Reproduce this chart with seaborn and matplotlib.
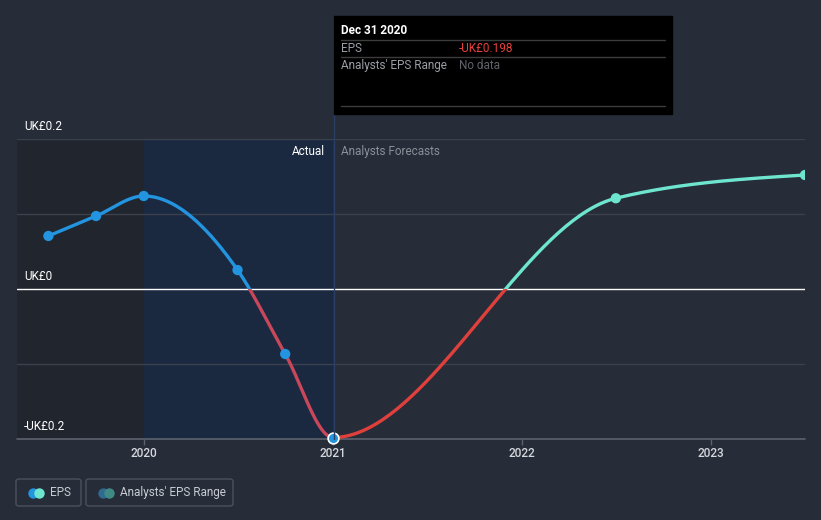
import numpy as np
import pandas as pd
import matplotlib
matplotlib.use("Agg")
import matplotlib.pyplot as plt
import seaborn as sns
from matplotlib.patches import Rectangle, FancyBboxPatch
from matplotlib.lines import Line2D

# ---- data ----
dates = [2019.496, 2019.748, 2020.0, 2020.496, 2020.748, 2021.0, 2022.496, 2023.496]
eps = [0.0707, 0.0973, 0.124, 0.0253, -0.0867, -0.198, 0.121, 0.152]
kind = ["actual"] * 6 + ["forecast"] * 2
year_ticks = [2020, 2021, 2022, 2023]
year_labels = ["2020", "2021", "2022", "2023"]
y_ticks = [-0.2, 0.0, 0.2]
y_labels = ["-UK£0.2", "UK£0", "UK£0.2"]
tooltip_date = "Dec 31 2020"
tooltip_eps = "-UK£0.198"

BG = "#262c38"
W, H = 821, 520

sns.set_theme(style="dark")
plt.rcParams["font.family"] = ["Roboto", "DejaVu Sans"]


def monotone_curve(xs, ys, n=80):
    xs = np.asarray(xs, float); ys = np.asarray(ys, float)
    k = len(xs)
    h = np.diff(xs); s = np.diff(ys) / h
    t = np.zeros(k)
    for i in range(1, k - 1):
        h0, h1, s0, s1 = h[i - 1], h[i], s[i - 1], s[i]
        p = (s0 * h1 + s1 * h0) / (h0 + h1)
        t[i] = (np.sign(s0) + np.sign(s1)) * min(abs(s0), abs(s1), 0.5 * abs(p))
    t[0] = (3 * s[0] - t[1]) / 2
    t[-1] = (3 * s[-1] - t[-2]) / 2
    X, Y = [], []
    for i in range(k - 1):
        u = np.linspace(0, 1, n)
        h00 = 2 * u**3 - 3 * u**2 + 1
        h10 = u**3 - 2 * u**2 + u
        h01 = -2 * u**3 + 3 * u**2
        h11 = u**3 - u**2
        X.append(xs[i] + u * h[i])
        Y.append(h00 * ys[i] + h10 * h[i] * t[i] + h01 * ys[i + 1] + h11 * h[i] * t[i + 1])
    return np.concatenate(X), np.concatenate(Y)


fig = plt.figure(figsize=(W / 100, H / 100), dpi=100, facecolor=BG)
ax = fig.add_axes([17 / W, 1 - 439 / H, 788 / W, 300 / H])
ax.set_facecolor(BG)
xmin, xmax = 2019.33, 2023.496
ax.set_xlim(xmin, xmax)
ax.set_ylim(-0.2, 0.2)

# shaded regions
ax.axvspan(xmin, 2020.0, color="#21252e", zorder=0, lw=0)
ax.axvspan(2020.0, 2021.0, color="#1a2940", zorder=0, lw=0)

# grid lines
for gy in [0.1, -0.1, 0.2]:
    ax.axhline(gy, color="#3a404c", lw=1, zorder=1)
ax.axhline(-0.2, color="#5c626d", lw=1.2, zorder=1, clip_on=False)
ax.axhline(0.0, color="white", lw=1, zorder=2)

for sp in ax.spines.values():
    sp.set_visible(False)

# curve
cx, cy = monotone_curve(dates, eps)
df_curve = pd.DataFrame({"x": cx, "y": cy})
segs = [
    ((xmin, 0.0), 2021.0 - xmin, 1.0, "#2394df"),
    ((xmin, -1.0), 2021.0 - xmin, 1.0, "#c8475a"),
    ((2021.0, 0.0), xmax - 2021.0 + 1, 1.0, "#6ee5cf"),
    ((2021.0, -1.0), xmax - 2021.0 + 1, 1.0, "#e0403c"),
]
for (xy, w, hh, col) in segs:
    before = set(ax.lines)
    sns.lineplot(data=df_curve, x="x", y="y", ax=ax, color=col, lw=2.4,
                 sort=False, estimator=None, zorder=4)
    new = [l for l in ax.lines if l not in before]
    rect = Rectangle(xy, w, hh, transform=ax.transData)
    for l in new:
        l.set_clip_path(rect)
        l.set_solid_capstyle("butt")

df_pts = pd.DataFrame({"date": dates, "eps": eps, "kind": kind})
past = df_pts[df_pts.kind == "actual"].iloc[:-1]
last = df_pts[df_pts.kind == "actual"].iloc[-1:]
fut = df_pts[df_pts.kind == "forecast"]
sns.scatterplot(data=past, x="date", y="eps", ax=ax, color="#2394df", s=55,
                edgecolor="none", zorder=6)
sns.scatterplot(data=fut, x="date", y="eps", ax=ax, color="#6ee5cf", s=55,
                edgecolor="none", zorder=6)
sns.scatterplot(data=last, x="date", y="eps", ax=ax, color="#2394df", s=60,
                edgecolor="white", linewidth=1.2, zorder=7, clip_on=False)

# ticks
ax.set_xticks(year_ticks)
ax.set_xticklabels(year_labels)
ax.set_yticks([])
ax.tick_params(axis="x", colors="#5c626d", length=4, width=1, pad=1.5,
               labelcolor="#d5d8dd", labelsize=8.5, bottom=True)
for lab in ax.get_xticklabels():
    lab.set_fontweight("medium")
ax.set_xlabel(""); ax.set_ylabel("")

# y labels above grid lines
for v, lab in zip(y_ticks, y_labels):
    py = 289 - v * 750 - 12
    fig.text(24 / W, 1 - py / H, lab, color="white", fontsize=8.5,
             va="center", ha="left")

# vertical divider at 2021
fig.add_artist(Line2D([333.5 / W, 333.5 / W], [1 - 16 / H, 1 - 439 / H],
                      color="#2b3f66", lw=1, zorder=3))

# Actual / Forecast labels
fig.text(325 / W, 1 - 151 / H, "Actual", color="white", fontsize=8.5,
         ha="right", va="center")
fig.text(341 / W, 1 - 151 / H, "Analysts Forecasts", color="#8a8f98",
         fontsize=8.5, ha="left", va="center")

# tooltip
fig.add_artist(Rectangle((334 / W, 1 - 114 / H), 338 / W, 98 / H,
                         transform=fig.transFigure, color="black", zorder=8))
for ly in [40, 57, 106]:
    fig.add_artist(Line2D([341 / W, 665 / W], [1 - ly / H, 1 - ly / H],
                          color="#3c3c3c", lw=1, zorder=9))
fig.text(341 / W, 1 - 31 / H, tooltip_date, color="white", fontsize=8.5,
         fontweight="bold", va="center", zorder=10)
fig.text(341 / W, 1 - 48.5 / H, "EPS", color="#9a9ea5", fontsize=8.5,
         va="center", zorder=10)
fig.text(459 / W, 1 - 48.5 / H, tooltip_eps, color="#e8403c", fontsize=8.5,
         va="center", zorder=10)
fig.text(341 / W, 1 - 65.5 / H, "Analysts' EPS Range", color="#9a9ea5",
         fontsize=8.5, va="center", zorder=10)
fig.text(459 / W, 1 - 65.5 / H, "No data", color="#5f6369", fontsize=8.5,
         va="center", zorder=10)

# legend
def legend_box(x0, x1, c1, c2, label, tx):
    fig.add_artist(FancyBboxPatch((x0 / W, 1 - 506 / H), (x1 - x0) / W, 27 / H,
                                  boxstyle="round,pad=0,rounding_size=0.004",
                                  transform=fig.transFigure, facecolor="none",
                                  edgecolor="#4a505c", lw=1))
    cyy = 1 - 492.5 / H
    fig.add_artist(Line2D([(x0 + 17) / W], [cyy], marker="o", markersize=7.5,
                          color=c1, markeredgecolor="none", lw=0))
    fig.add_artist(Line2D([(x0 + 23) / W], [cyy], marker="o", markersize=7.5,
                          color=c2, markeredgecolor="none", lw=0))
    fig.text(tx / W, cyy, label, color="#c8ccd2", fontsize=8.5, va="center")

legend_box(16, 81, "#2394df", "#6ee5cf", "EPS", 50)
legend_box(86, 233, "#2f6a91", "#3f8a84", "Analysts' EPS Range", 120)

fig.savefig("out.png", dpi=100, facecolor=BG)
